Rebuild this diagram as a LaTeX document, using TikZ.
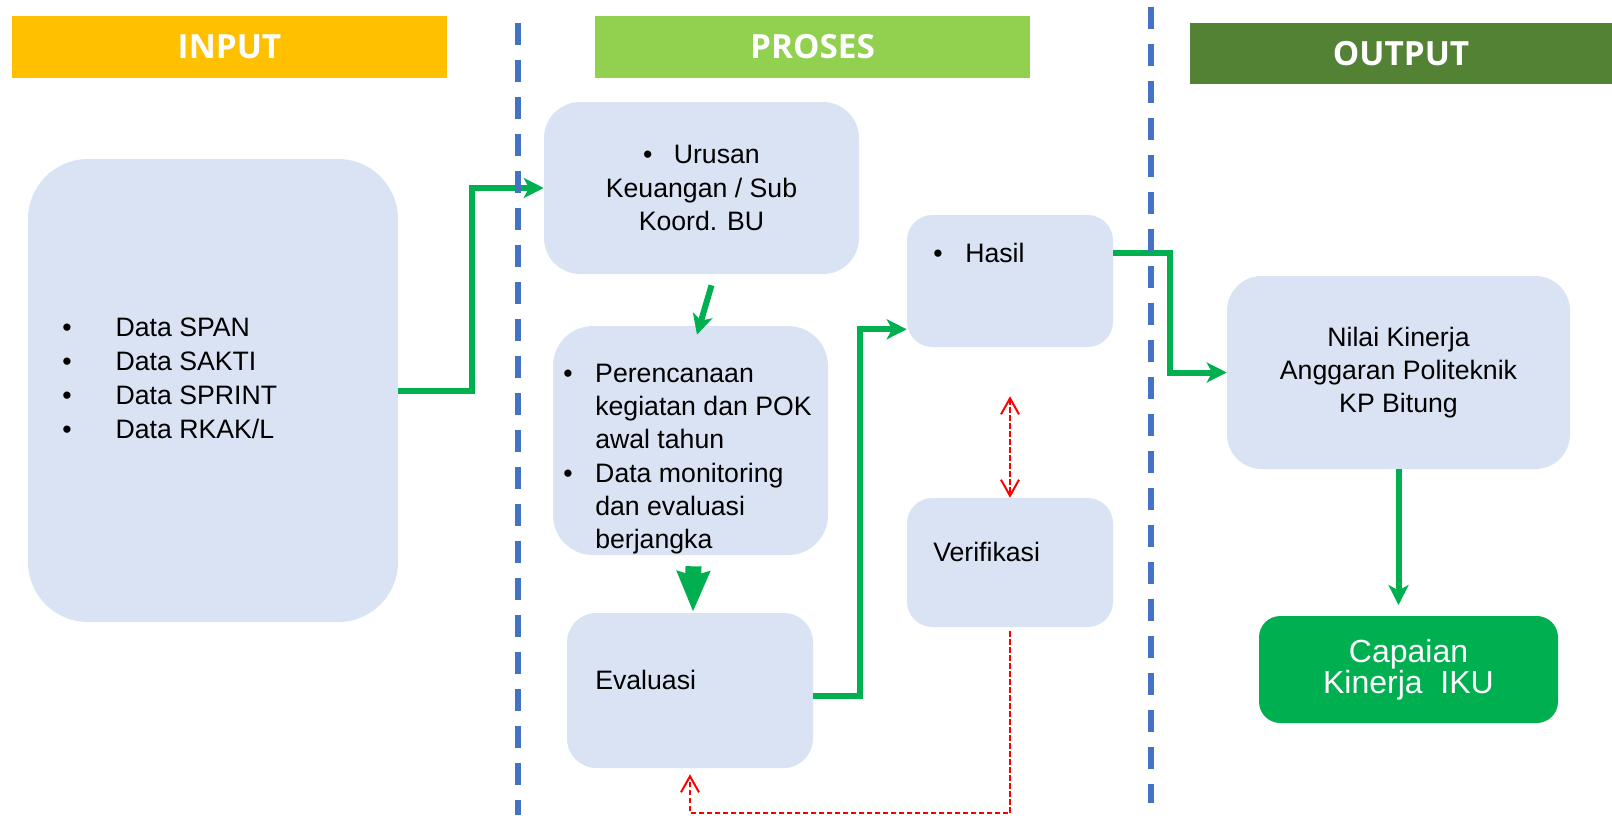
\documentclass[tikz,border=0pt]{standalone}
\usepackage{fontspec}
\setmainfont{Liberation Sans}
\newfontfamily\headfont{Open Sans}
\usetikzlibrary{arrows.meta,calc}

\definecolor{inputyellow}{HTML}{FFC000}
\definecolor{prosesgreen}{HTML}{92D050}
\definecolor{outputgreen}{HTML}{548235}
\definecolor{flowgreen}{HTML}{00B050}
\definecolor{boxblue}{HTML}{DAE3F3}
\definecolor{sepblue}{HTML}{4472C4}

\newcommand{\bul}[1]{\makebox[#1][l]{\textbullet}}

\begin{document}
\begin{tikzpicture}[x=0.75pt,y=-0.75pt,
    header/.style={rectangle,inner sep=0pt,text=white,
      font=\headfont\bfseries\fontsize{25}{30}\selectfont},
    box/.style={rectangle,fill=boxblue,inner sep=0pt},
    txt/.style={anchor=west,inner sep=0pt,align=left,
      font=\fontsize{20}{25}\selectfont},
    flow/.style={draw=flowgreen,line width=4.5pt,
      -{Stealth[length=15pt,width=15pt,inset=4pt]}},
    check/.style={draw=red,line width=1.5pt,dash pattern=on 4pt off 2pt,
      -{Straight Barb[length=12pt,width=13.5pt]}},
    sep/.style={draw=sepblue,line width=4.5pt,
      dash pattern=on 16.5pt off 11.25pt}]
  \useasboundingbox (0,0) rectangle (1612,815);

  % column headers
  \node[header,fill=inputyellow,minimum width=326.25pt,minimum height=46.5pt]
    (inputhead) at (229.5,47) {INPUT};
  \node[header,fill=prosesgreen,minimum width=326.25pt,minimum height=46.5pt]
    (proseshead) at (812.5,47) {PROSES};
  \node[header,fill=outputgreen,minimum width=316.5pt,minimum height=45.75pt]
    (outputhead) at (1401,53.5) {OUTPUT};

  % input
  \node[box,rounded corners=45pt,minimum width=277.5pt,minimum height=347.25pt]
    (input) at (213,390.5) {};
  \node[txt,font=\fontsize{20}{25.5}\selectfont] (inputlist) at (62,378)
    {\bul{40pt}Data SPAN\\\bul{40pt}Data SAKTI\\\bul{40pt}Data SPRINT\\\bul{40pt}Data RKAK/L};

  % proses
  \node[box,rounded corners=27pt,minimum width=236.25pt,minimum height=129pt,
    align=center,font=\fontsize{20}{25}\selectfont]
    (urusan) at (701.5,188) {\bul{23pt}Urusan\\Keuangan / Sub\\Koord. BU};
  \node[box,rounded corners=30pt,minimum width=206.25pt,minimum height=171.75pt]
    (perenc) at (690.5,440.5) {};
  \node[txt] (perenclist) at (563,459)
    {\bul{24pt}Perencanaan\\\hspace*{24pt}kegiatan dan POK\\\hspace*{24pt}awal tahun\\
     \bul{24pt}Data monitoring\\\hspace*{24pt}dan evaluasi\\\hspace*{24pt}berjangka};
  \node[box,rounded corners=22pt,minimum width=184.5pt,minimum height=116.25pt]
    (eval) at (690,690.5) {};
  \node[txt] (evaltext) at (595,680) {Evaluasi};
  \node[box,rounded corners=19pt,minimum width=154.5pt,minimum height=99pt]
    (hasil) at (1010,281) {};
  \node[txt] (hasiltext) at (933,252.5) {\bul{24pt}Hasil};
  \node[box,rounded corners=19pt,minimum width=154.5pt,minimum height=96.75pt]
    (verif) at (1010,562.5) {};
  \node[txt] (veriftext) at (933,552) {Verifikasi};

  % output
  \node[box,rounded corners=26pt,minimum width=257.25pt,minimum height=144.75pt,
    align=center,font=\fontsize{20}{25}\selectfont]
    (nilai) at (1398.5,372.5) {Nilai Kinerja\\Anggaran Politeknik\\KP Bitung};
  \node[rectangle,fill=flowgreen,rounded corners=16pt,inner sep=0pt,
    minimum width=224.25pt,minimum height=80.25pt,text=white,align=center,
    font=\fontsize{24}{22}\selectfont]
    (capaian) at (1408.5,669.5) {Capaian\\Kinerja\ \ IKU};

  % green flow
  \draw[flow] (input.east) -- ++(74,0) |- (urusan.west);
  \draw[flow] ($(urusan.south)+(10,11)$) -- ($(perenc.north)+(6.5,9)$);
  \draw[draw=flowgreen,line width=12pt,-{Stealth[length=30pt,width=24pt,inset=3pt]}]
    ($(perenc.south)+(3,11)$) -- ($(eval.north)+(3,-1)$);
  \draw[flow] ([yshift=-4pt]eval.east) -- ++(47,0) |- ([yshift=13.5pt]hasil.south west);
  \draw[flow] ([yshift=21pt]hasil.east) -- ++(57,0) |- (nilai.west);
  \draw[flow,shorten >=8pt] (nilai.south) -- (nilai.south |- capaian.north);

  % red checks
  \draw[check,{Straight Barb[length=12pt,width=13.5pt]}-{Straight Barb[length=12pt,width=13.5pt]},
    shorten <=36.75pt] (hasil.south) -- (verif.north);
  \draw[check,shorten <=3pt,shorten >=4.5pt] (verif.south) -- ++(0,186) -| (eval.south);

  % column separators
  \draw[sep] (518,23) -- (518,815);
  \draw[sep] (1151,7) -- (1151,803);
\end{tikzpicture}
\end{document}
